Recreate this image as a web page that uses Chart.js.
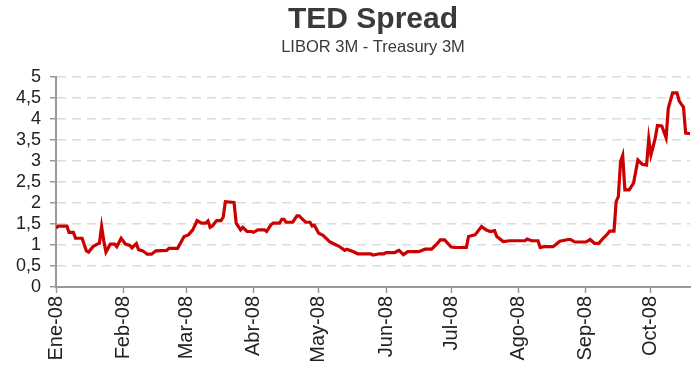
<html><head><meta charset="utf-8">
<script src="https://cdn.jsdelivr.net/npm/chart.js"></script>
<style>body{margin:0;background:#fff;}</style>
</head>
<body>
<div style="position:relative;width:691px;height:366px"><canvas id="myChart" width="691" height="366"></canvas></div>
<script>
// day of year 2008 (0 = 1 Jan) and TED spread in %
var days = [0,1,5,6,8,9,12,14,15,17,19,20,21,22,23,25,27,28,30,32,34,35,37,38,40,42,44,46,51,52,56,59,61,63,65,67,69,70,71,72,74,76,77,78,82,83,85,86,88,90,91,93,96,97,
  99,100,103,104,105,106,109,111,112,113,115,117,118,119,121,123,126,129,130,133,134,137,139,145,146,149,151,152,156,157,158,160,162,167,170,173,175,177,179,
  182,184,189,190,193,196,198,200,202,203,206,209,216,217,219,222,223,225,229,232,236,237,239,244,246,248,250,252,254,255,257,
  258,259,260,261,262,264,266,268,270,272,273,274,276,277,279,281,282,284,286,287,288,289,290,292];
var spread = [1.40,1.45,1.45,1.30,1.30,1.16,1.16,0.86,0.83,0.96,1.02,1.04,1.44,1.10,0.83,1.02,1.02,0.96,1.16,1.02,0.99,0.93,1.03,0.89,0.86,0.78,0.78,0.86,0.87,0.92,0.92,1.20,1.24,1.36,1.58,1.52,1.52,1.57,1.42,1.45,1.58,1.58,1.66,2.03,2.01,1.52,1.36,1.42,1.32,1.32,1.30,1.36,1.36,1.32,
  1.48,1.52,1.52,1.61,1.61,1.54,1.54,1.69,1.69,1.64,1.54,1.54,1.45,1.47,1.28,1.23,1.08,1.00,0.98,0.87,0.90,0.84,0.79,0.79,0.76,0.79,0.79,0.82,0.82,0.85,0.87,0.77,0.84,0.84,0.90,0.90,1.00,1.12,1.12,
  0.95,0.94,0.94,1.20,1.24,1.44,1.36,1.32,1.34,1.20,1.08,1.10,1.10,1.14,1.10,1.10,0.94,0.96,0.96,1.09,1.13,1.13,1.07,1.07,1.13,1.04,1.04,1.16,1.26,1.33,1.33,
  2.03,2.15,2.98,3.13,2.31,2.31,2.47,3.02,2.92,2.90,3.52,3.14,3.54,3.84,3.83,3.55,4.25,4.62,4.62,4.43,4.35,4.28,3.66,3.65];
var monthTicks = [0,31,60,91,121,152,182,213,244,274];
var monthLabels = ['Ene-08','Feb-08','Mar-08','Abr-08','May-08','Jun-08','Jul-08','Ago-08','Sep-08','Oct-08'];
var yTicks = [0,0.5,1,1.5,2,2.5,3,3.5,4,4.5,5];
var yLabels = ['0','0,5','1','1,5','2','2,5','3','3,5','4','4,5','5'];

var font = 'Liberation Sans, Arial, sans-serif';
var ctx = document.getElementById('myChart');
var myChart = new Chart(ctx, {
  type: 'line',
  data: {
    datasets: [{
      data: days.map(function (d, i) { return {x: d, y: spread[i]}; }),
      borderColor: '#cc0000',
      borderWidth: 3.2,
      pointRadius: 0,
      tension: 0,
      fill: false
    }]
  },
  options: {
    responsive: false,
    animation: false,
    layout: {padding: {left: 0, right: 1, top: 0, bottom: 0}},
    plugins: {
      legend: {display: false},
      tooltip: {enabled: false},
      title: {display: true, text: 'TED Spread', fullSize: false, color: '#3a3a3a',
        font: {family: font, size: 30, weight: 'bold'}, padding: {top: 2, bottom: 0}},
      subtitle: {display: true, text: 'LIBOR 3M - Treasury 3M', fullSize: false, color: '#3a3a3a',
        font: {family: font, size: 16.5}, padding: {top: 0, bottom: 19}}
    },
    scales: {
      x: {
        type: 'linear', min: 0, max: 292,
        afterBuildTicks: function (s) { s.ticks = monthTicks.map(function (v) { return {value: v}; }); },
        afterFit: function (s) { s.height = 79; },
        ticks: {autoSkip: false, minRotation: 90, maxRotation: 90, padding: 3, color: '#222',
          font: {family: font, size: 20},
          callback: function (v, i) { return monthLabels[i]; }},
        grid: {drawOnChartArea: false, tickLength: 6, tickColor: '#999', tickWidth: 1.5},
        border: {color: '#999', width: 2}
      },
      y: {
        min: 0, max: 5,
        afterBuildTicks: function (s) { s.ticks = yTicks.map(function (v) { return {value: v}; }); },
        afterFit: function (s) { s.width = 56; },
        ticks: {autoSkip: false, padding: 9, color: '#222', font: {family: font, size: 18},
          callback: function (v, i) { return yLabels[i]; }},
        grid: {color: '#dcdcdc', lineWidth: 1.5, tickColor: '#999', tickLength: 6, tickWidth: 1.5},
        border: {color: '#999', width: 2, dash: [9, 6]}
      }
    }
  }
});
</script>
</body></html>
